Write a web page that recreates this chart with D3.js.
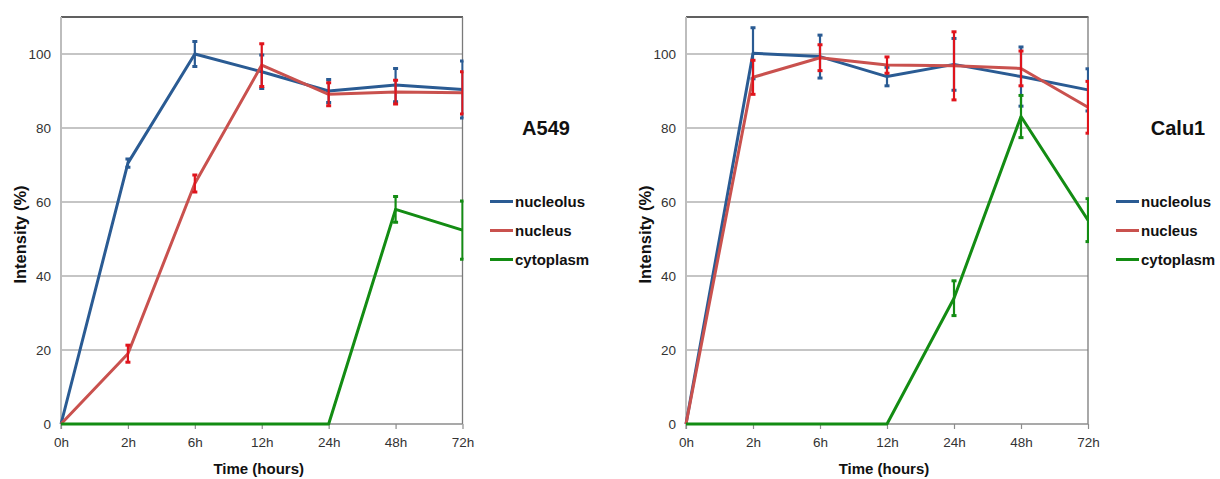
<!DOCTYPE html>
<html>
<head>
<meta charset="utf-8">
<script src="https://cdn.jsdelivr.net/npm/d3@7/dist/d3.min.js"></script>
<style>
  html, body { margin: 0; padding: 0; background: #fff; }
  svg { display: block; font-family: "Liberation Sans", Arial, sans-serif; }
</style>
</head>
<body>
<svg id="chart" width="1220" height="479"></svg>
<script>
// Time points and axis ticks
const timeLabels = ["0h", "2h", "6h", "12h", "24h", "48h", "72h"];
const yTicks = [0, 20, 40, 60, 80, 100];
const seriesNames = ["nucleolus", "nucleus", "cytoplasm"];

// A549 — mean intensity (%) and error per time point
const a549Nucleolus    = [0, 70.5, 100, 95.2, 90.0, 91.6, 90.4];
const a549NucleolusErr = [0, 1.1, 3.4, 4.5, 3.1, 4.5, 7.7];
const a549Nucleus      = [0, 19.0, 65.0, 97.0, 89.1, 89.7, 89.5];
const a549NucleusErr   = [0, 2.3, 2.3, 5.8, 3.1, 3.2, 5.7];
const a549Cytoplasm    = [0, 0, 0, 0, 0, 58.0, 52.4];
const a549CytoplasmErr = [0, 0, 0, 0, 0, 3.5, 7.9];

// Calu1 — mean intensity (%) and error per time point
const calu1Nucleolus    = [0, 100.2, 99.3, 93.9, 97.2, 93.9, 90.3];
const calu1NucleolusErr = [0, 6.9, 5.8, 2.5, 7.0, 8.0, 5.7];
const calu1Nucleus      = [0, 93.7, 99.0, 97.0, 96.8, 96.1, 85.6];
const calu1NucleusErr   = [0, 4.6, 3.5, 2.2, 9.2, 4.7, 7.0];
const calu1Cytoplasm    = [0, 0, 0, 0, 34.0, 83.1, 55.1];
const calu1CytoplasmErr = [0, 0, 0, 0, 4.7, 5.7, 5.8];

const lineColors = { nucleolus: "#2a5b93", nucleus: "#c9514e", cytoplasm: "#138c13" };
const errColors  = { nucleolus: "#2a5b93", nucleus: "#e0141c", cytoplasm: "#138c13" };

const svg = d3.select("#chart");

function drawPanel(opts) {
  const { left, right, top, bottom, title, titleX, legendX, series, id } = opts;
  const x = d3.scalePoint().domain(timeLabels).range([left, right]).padding(0);
  const y = d3.scaleLinear().domain([0, 110]).range([bottom, top]);

  const g = svg.append("g");

  // clip region for the plotted marks
  g.append("clipPath").attr("id", "clip-" + id)
    .append("rect")
    .attr("x", left - 8).attr("y", top - 2)
    .attr("width", right - left + 9).attr("height", bottom - top + 12);

  // horizontal gridlines
  g.append("g")
    .selectAll("line")
    .data(yTicks.filter(d => d > 0))
    .join("line")
    .attr("x1", left).attr("x2", right)
    .attr("y1", d => y(d)).attr("y2", d => y(d))
    .attr("stroke", "#8c8c8c").attr("stroke-width", 1.2);

  // plot frame: top and right edges
  g.append("line").attr("x1", left).attr("x2", right + 0.5)
    .attr("y1", y(110)).attr("y2", y(110))
    .attr("stroke", "#2b2b2b").attr("stroke-width", 1.3);
  g.append("line").attr("x1", right).attr("x2", right)
    .attr("y1", y(110)).attr("y2", bottom)
    .attr("stroke", "#7a7a7a").attr("stroke-width", 1.3);

  // y axis
  const yAxis = g.append("g").attr("transform", `translate(${left},0)`)
    .call(d3.axisLeft(y).tickValues(yTicks).tickSize(0).tickPadding(10));
  yAxis.select(".domain").attr("stroke", "#bdbdbd").attr("stroke-width", 2)
    .attr("d", `M0,${y(110)}V${bottom + 5}`);
  yAxis.selectAll("text").attr("font-size", 13.5).attr("fill", "#333")
    .attr("font-family", "'Liberation Sans', Arial, sans-serif");

  // x axis
  const xAxis = g.append("g").attr("transform", `translate(0,${bottom})`)
    .call(d3.axisBottom(x).tickSize(5).tickPadding(8));
  xAxis.select(".domain").attr("stroke", "#8c8c8c").attr("stroke-width", 1.3)
    .attr("d", `M${left},0H${right}`);
  xAxis.selectAll(".tick line").attr("stroke", "#8c8c8c").attr("stroke-width", 1.2);
  xAxis.selectAll("text").attr("font-size", 13.5).attr("fill", "#333")
    .attr("font-family", "'Liberation Sans', Arial, sans-serif");

  // axis titles
  g.append("text")
    .attr("x", (left + right) / 2 - 3).attr("y", bottom + 50)
    .attr("text-anchor", "middle")
    .attr("font-size", 15).attr("font-weight", "bold").attr("fill", "#111")
    .text("Time (hours)");
  g.append("text")
    .attr("transform", `translate(${left - 41},${(top + bottom) / 2 + 14}) rotate(-90)`)
    .attr("text-anchor", "middle").attr("dy", "0.35em")
    .attr("font-size", 16.5).attr("font-weight", "bold").attr("fill", "#111")
    .text("Intensity (%)");

  // panel title
  g.append("text")
    .attr("x", titleX).attr("y", 128).attr("dy", "0.35em")
    .attr("text-anchor", "middle")
    .attr("font-size", 20).attr("font-weight", "bold").attr("fill", "#111")
    .text(title);

  // series: line then error bars
  const marks = g.append("g").attr("clip-path", `url(#clip-${id})`);
  const line = d3.line().x((d, i) => x(timeLabels[i])).y(d => y(d));
  series.forEach(s => {
    marks.append("path")
      .datum(s.values)
      .attr("d", line)
      .attr("fill", "none")
      .attr("stroke", lineColors[s.name])
      .attr("stroke-width", 3)
      .attr("stroke-linejoin", "round");

    const pts = s.values.map((v, i) => ({ t: timeLabels[i], v, e: s.err[i] })).filter(d => d.e > 0);
    const eb = marks.append("g").selectAll("g").data(pts).join("g")
      .attr("stroke", errColors[s.name]);
    eb.append("line")
      .attr("x1", d => x(d.t)).attr("x2", d => x(d.t))
      .attr("y1", d => y(d.v + d.e)).attr("y2", d => y(d.v - d.e))
      .attr("stroke-width", 2.2);
    eb.append("line")
      .attr("x1", d => x(d.t) - 2.5).attr("x2", d => x(d.t) + 2.5)
      .attr("y1", d => y(d.v + d.e)).attr("y2", d => y(d.v + d.e))
      .attr("stroke-width", 3);
    eb.append("line")
      .attr("x1", d => x(d.t) - 2.5).attr("x2", d => x(d.t) + 2.5)
      .attr("y1", d => y(d.v - d.e)).attr("y2", d => y(d.v - d.e))
      .attr("stroke-width", 3);
  });

  // legend
  const leg = g.append("g").selectAll("g").data(seriesNames).join("g")
    .attr("transform", (d, i) => `translate(${legendX},${201.5 + i * 29})`);
  leg.append("line").attr("x1", 0).attr("x2", 23).attr("y1", 0).attr("y2", 0)
    .attr("stroke", d => lineColors[d]).attr("stroke-width", 3);
  leg.append("text").attr("x", 25).attr("dy", "0.35em")
    .attr("font-size", 15).attr("font-weight", "bold").attr("fill", "#111")
    .text(d => d);
}

drawPanel({
  id: "a549", left: 61, right: 462.5, top: 17, bottom: 424,
  title: "A549", titleX: 546, legendX: 490,
  series: [
    { name: "nucleolus", values: a549Nucleolus, err: a549NucleolusErr },
    { name: "nucleus", values: a549Nucleus, err: a549NucleusErr },
    { name: "cytoplasm", values: a549Cytoplasm, err: a549CytoplasmErr }
  ]
});

drawPanel({
  id: "calu1", left: 686, right: 1088, top: 17, bottom: 424,
  title: "Calu1", titleX: 1178, legendX: 1116,
  series: [
    { name: "nucleolus", values: calu1Nucleolus, err: calu1NucleolusErr },
    { name: "nucleus", values: calu1Nucleus, err: calu1NucleusErr },
    { name: "cytoplasm", values: calu1Cytoplasm, err: calu1CytoplasmErr }
  ]
});
</script>
</body>
</html>
